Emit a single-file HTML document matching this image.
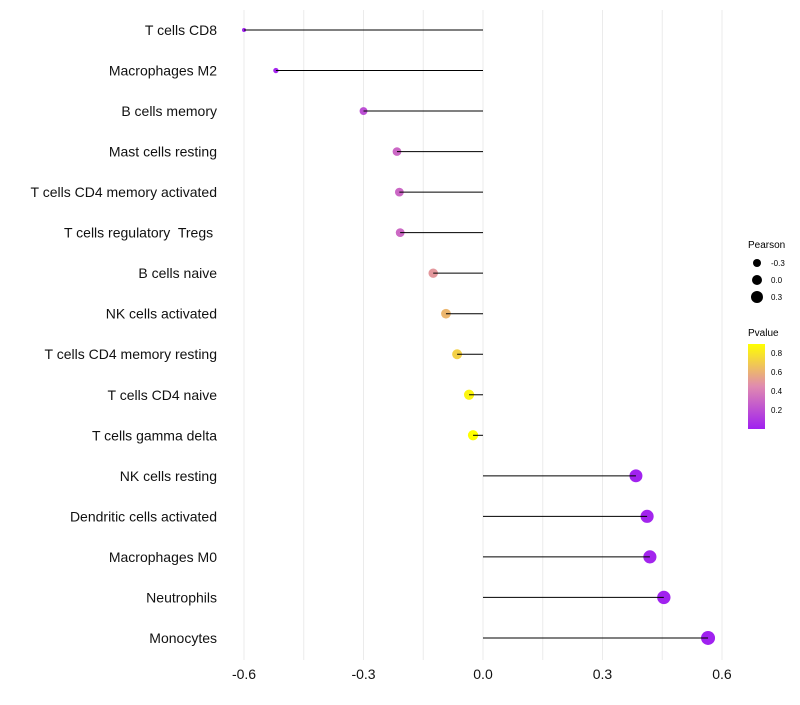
<!DOCTYPE html>
<html><head><meta charset="utf-8"><style>
body{margin:0;background:#fff;font-family:"Liberation Sans",sans-serif}
text{white-space:pre}
</style></head><body>
<svg id="chart" width="800" height="700" xmlns="http://www.w3.org/2000/svg" font-family="Liberation Sans, sans-serif">
<g id="grid"></g>
<g id="marks"></g>
<g id="ylabels"></g>
<g id="xlabels"></g>
<g>
<text x="748" y="248" font-size="10">Pearson</text>
<circle cx="757" cy="263" r="4" fill="#000"/><text x="771" y="266" font-size="8">-0.3</text>
<circle cx="757" cy="280" r="5" fill="#000"/><text x="771" y="283" font-size="8">0.0</text>
<circle cx="757" cy="297" r="6" fill="#000"/><text x="771" y="300" font-size="8">0.3</text>
</g>
<g>
<defs><linearGradient id="pg" x1="0" y1="1" x2="0" y2="0">
<stop offset="0" stop-color="#a020f0"/><stop offset="0.5" stop-color="#e08ab0"/><stop offset="1" stop-color="#ffff00"/></linearGradient></defs>
<text x="748" y="336" font-size="10">Pvalue</text>
<rect x="748" y="344" width="17" height="85" fill="url(#pg)"/>
<text x="771" y="356" font-size="8">0.8</text>
<text x="771" y="375" font-size="8">0.6</text>
<text x="771" y="394" font-size="8">0.4</text>
<text x="771" y="413" font-size="8">0.2</text>
</g>
</svg>
<script>
const categories=["T cells CD8","Macrophages M2","B cells memory","Mast cells resting","T cells CD4 memory activated","T cells regulatory  Tregs ","B cells naive","NK cells activated","T cells CD4 memory resting","T cells CD4 naive","T cells gamma delta","NK cells resting","Dendritic cells activated","Macrophages M0","Neutrophils","Monocytes"];
const pearson=[-0.60,-0.52,-0.30,-0.216,-0.21,-0.208,-0.125,-0.093,-0.065,-0.035,-0.025,0.384,0.412,0.419,0.454,0.565];
const pvalues=[0.01,0.02,0.2,0.3,0.3,0.31,0.5,0.62,0.72,0.86,0.9,0.01,0.02,0.02,0.01,0.003];
const xTicks=[-0.6,-0.3,0.0,0.3,0.6];
const xTickLabels=["-0.6","-0.3","0.0","0.3","0.6"];
const ns="http://www.w3.org/2000/svg";
const x=v=>483+v*398.3;
const y=i=>30+i*40.53;
const r=v=>Math.sqrt(Math.max(1,27.2+38.6*v));
function col(p){const t=Math.min(1,p/0.9);
 const a=[160,32,240],m=[224,138,176],b=[255,255,0];
 let c=t<0.5?a.map((v,k)=>v+(m[k]-v)*t*2):m.map((v,k)=>v+(b[k]-v)*(t-0.5)*2);
 return `rgb(${c.map(Math.round).join(",")})`;}
function mk(t,at,parent){const e=document.createElementNS(ns,t);for(const k in at)e.setAttribute(k,at[k]);parent.appendChild(e);return e;}
const grid=document.getElementById('grid'),marks=document.getElementById('marks'),yl=document.getElementById('ylabels'),xl=document.getElementById('xlabels');
for(let v=-0.6;v<=0.61;v+=0.15){const g=mk('line',{x1:x(v),x2:x(v),y1:10,y2:660,stroke:'#ebebeb','stroke-width':1},grid);

}
xTicks.forEach((v,i)=>{const t=mk('text',{x:x(v),y:679,'font-size':14,'text-anchor':'middle',fill:'#111'},xl);t.textContent=xTickLabels[i];

});
categories.forEach((c,i)=>{
 const t=mk('text',{x:217,y:y(i)+5,'font-size':14,'text-anchor':'end',fill:'#111'},yl);t.textContent=c;
 
 
 const p=mk('circle',{cx:x(pearson[i]),cy:y(i),r:r(pearson[i]),fill:col(pvalues[i])},marks);
 
 
 const l=mk('line',{x1:x(0),x2:x(pearson[i]),y1:y(i),y2:y(i),stroke:'#000','stroke-width':1},marks);
 
 
});
</script>
</body></html>
